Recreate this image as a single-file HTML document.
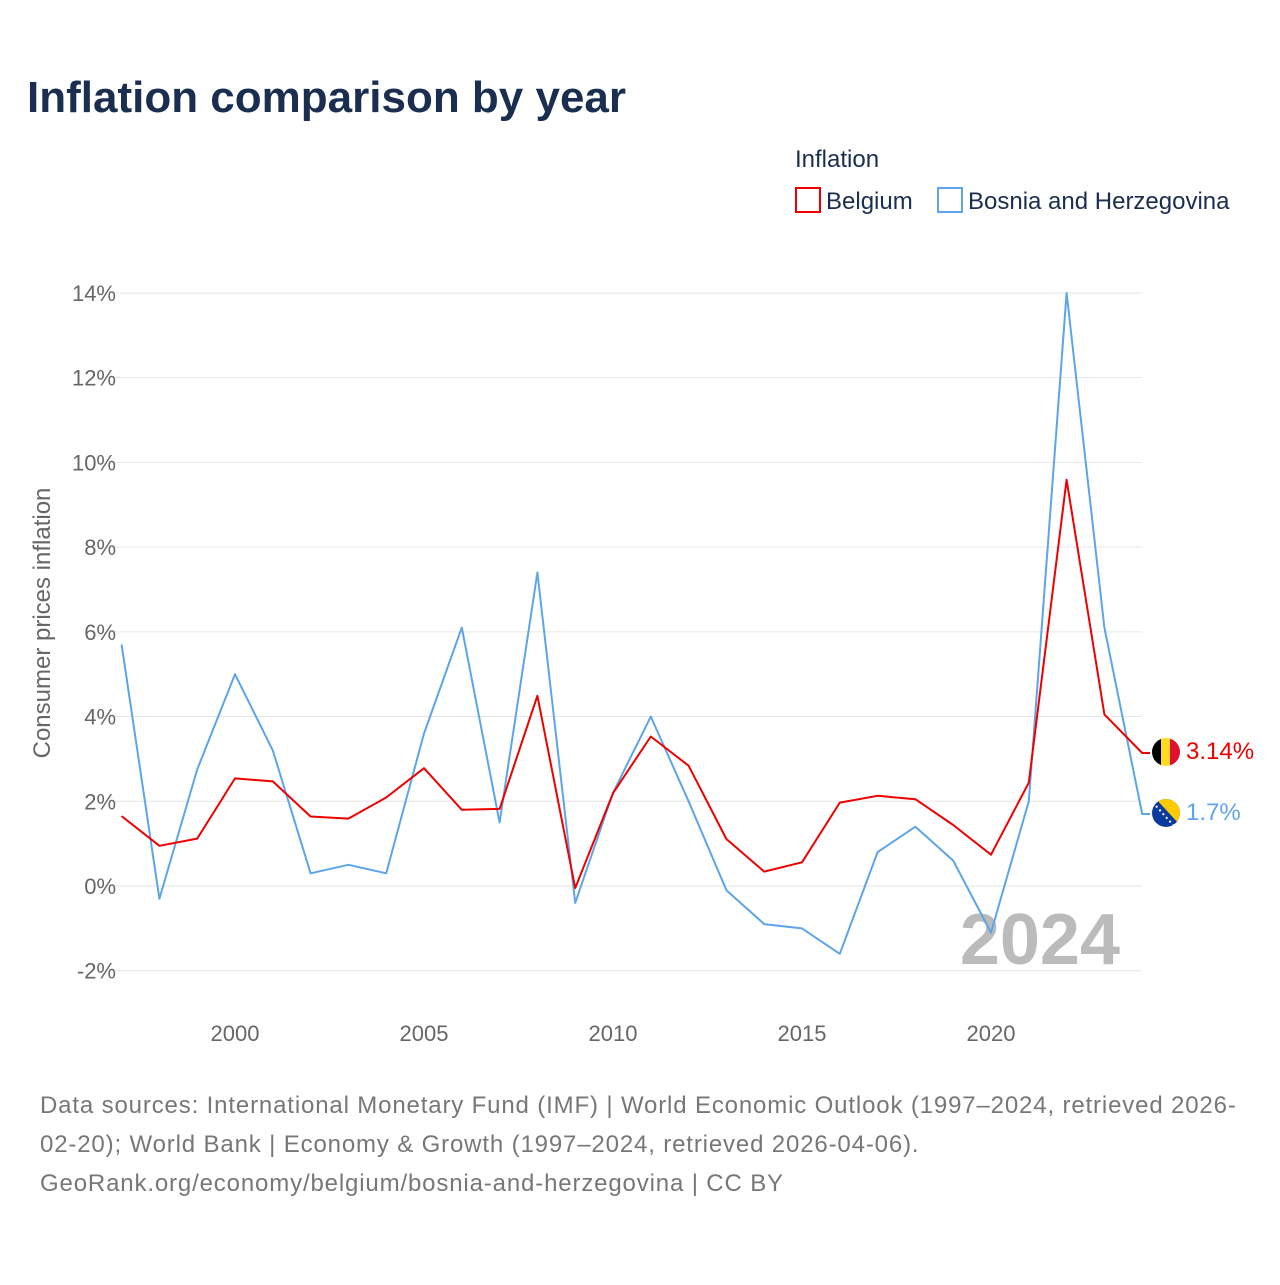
<!DOCTYPE html>
<html><head><meta charset="utf-8"><style>
body{margin:0;background:#fff;font-family:"Liberation Sans",sans-serif}
</style></head><body>
<svg width="1280" height="1280" xmlns="http://www.w3.org/2000/svg" font-family="Liberation Sans, sans-serif">
<rect width="1280" height="1280" fill="#fff"/>
<text x="27" y="112" font-size="44" font-weight="bold" fill="#1a2e4f">Inflation comparison by year</text>
<text x="795" y="167" font-size="24" fill="#1a2e4f">Inflation</text>
<g><rect x="796" y="188" width="24" height="24" fill="none" stroke="#ee0000" stroke-width="2"/><text x="826" y="209" font-size="24" fill="#1a2e4f">Belgium</text></g>
<g><rect x="938" y="188" width="24" height="24" fill="none" stroke="#5da5e8" stroke-width="2"/><text x="968" y="209" font-size="24" fill="#1a2e4f">Bosnia and Herzegovina</text></g>
<g id="grid"></g><g id="yt"></g><g id="xt"></g>
<text transform="translate(50,623) rotate(-90)" text-anchor="middle" font-size="24" fill="#666">Consumer prices inflation</text>
<text x="1120" y="964" text-anchor="end" font-size="72" font-weight="bold" fill="#bbb">2024</text>
<g id="lines"></g>
<g><clipPath id="c1"><circle cx="1166" cy="752" r="14"/></clipPath><g clip-path="url(#c1)"><rect x="1152" y="738" width="10" height="28" fill="#000"/><rect x="1161" y="738" width="10" height="28" fill="#fdda24"/><rect x="1170" y="738" width="10" height="28" fill="#e0112b"/></g></g>
<g><clipPath id="c2"><circle cx="1166" cy="813" r="14"/></clipPath><g clip-path="url(#c2)"><rect x="1152" y="799" width="28" height="28" fill="#0a3a9c"/><polygon points="1156,799 1180,799 1180,825" fill="#fecb00"/><line x1="1156" y1="806" x2="1174" y2="826" stroke="#fff" stroke-width="2" stroke-dasharray="2 3"/></g></g>
<text x="1186" y="759" font-size="24" fill="#ee0000">3.14%</text>
<text x="1186" y="820" font-size="24" fill="#5da5e8">1.7%</text>
<text font-size="24" fill="#777" letter-spacing="0.85"><tspan x="40" y="1113">Data sources: International Monetary Fund (IMF) | World Economic Outlook (1997–2024, retrieved 2026-</tspan><tspan x="40" y="1152">02-20); World Bank | Economy &amp; Growth (1997–2024, retrieved 2026-04-06).</tspan><tspan x="40" y="1191">GeoRank.org/economy/belgium/bosnia-and-herzegovina | CC BY</tspan></text>
</svg>
<script>
const years=[1997,1998,1999,2000,2001,2002,2003,2004,2005,2006,2007,2008,2009,2010,2011,2012,2013,2014,2015,2016,2017,2018,2019,2020,2021,2022,2023,2024];
const belgium=[1.65,0.95,1.12,2.54,2.47,1.64,1.59,2.09,2.78,1.8,1.82,4.49,-0.05,2.19,3.53,2.84,1.11,0.34,0.56,1.97,2.13,2.05,1.44,0.74,2.44,9.59,4.05,3.14];
const bosnia=[5.7,-0.3,2.75,5.0,3.2,0.3,0.5,0.3,3.6,6.1,1.5,7.4,-0.4,2.2,4.0,2.0,-0.1,-0.9,-1.0,-1.6,0.8,1.4,0.6,-1.1,2.0,14.0,6.1,1.7];
const yTicks=[-2,0,2,4,6,8,10,12,14];
const xTicks=[2000,2005,2010,2015,2020];
const NS="http://www.w3.org/2000/svg";
const x=v=>121.6+(v-1997)*37.8;
const y=v=>886-v*42.36;
function mk(t,a,p){const e=document.createElementNS(NS,t);for(const k in a)e.setAttribute(k,a[k]);document.getElementById(p).appendChild(e);return e;}
yTicks.forEach(t=>{
 const g=mk('line',{x1:112,x2:1142,y1:y(t),y2:y(t),stroke:'#e6e6e6','stroke-width':1},'grid');
 
 
 const l=mk('text',{x:116,y:y(t)+8,'text-anchor':'end','font-size':22,fill:'#666'},'yt');
 l.textContent=t+'%';
 
 
});
xTicks.forEach(t=>{
 const l=mk('text',{x:x(t),y:1041,'text-anchor':'middle','font-size':22,fill:'#666'},'xt');
 l.textContent=t;
 
 
});
function line(vals,col,name){
 let d=vals.map((v,i)=>(i?'L':'M')+x(years[i]).toFixed(1)+','+y(v).toFixed(1)).join(' ');
 d+=' H1150';
 const p=mk('path',{d:d,fill:'none',stroke:col,'stroke-width':2,'stroke-linejoin':'round'},'lines');
 
 
}
line(bosnia,'#5da5e8','bosnia-line');
line(belgium,'#ee0000','belgium-line');
</script>
</body></html>
